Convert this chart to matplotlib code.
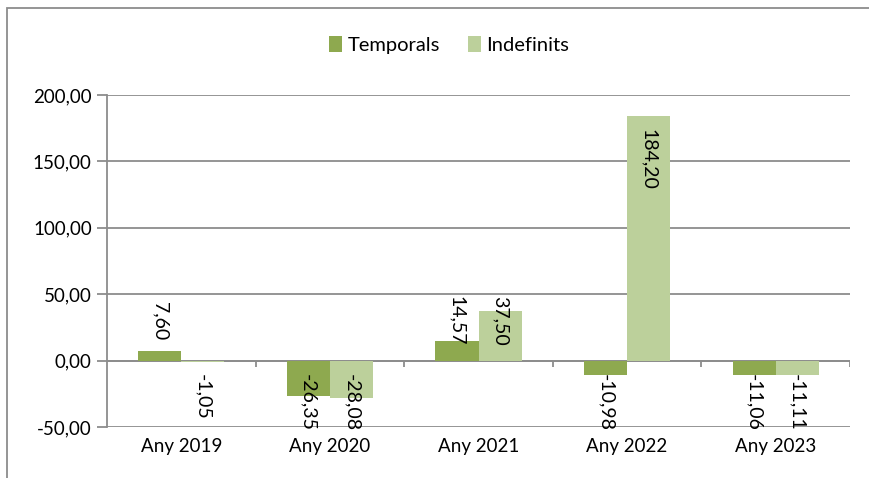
import matplotlib.pyplot as plt
import numpy as np
from matplotlib.patches import Rectangle

# Chart data
CATEGORIES = ["Any 2019", "Any 2020", "Any 2021", "Any 2022", "Any 2023"]
TEMPORALS = [7.60, -26.35, 14.57, -10.98, -11.06]
INDEFINITS = [-1.05, -28.08, 37.50, 184.20, -11.11]
SERIES_NAMES = ["Temporals", "Indefinits"]
Y_TICKS = [-50, 0, 50, 100, 150, 200]

COLORS = ["#8EA94F", "#BCD09B"]
GRID = "#8C8C8C"
FONT = ["Lato", "DejaVu Sans"]


def fmt(v):
    return f"{v:.2f}".replace(".", ",")


def label_y(v):
    # mimic the spreadsheet's placement of the rotated labels
    if v < 0:
        return -10, "top"
    if v > 100:
        return v - 10, "top"
    return 30, "center"


if __name__ == "__main__":
    plt.rcParams["font.family"] = FONT
    fig = plt.figure(figsize=(8.69, 4.78), dpi=100)
    fig.patches.append(Rectangle((7 / 869, -0.1), 1.2, 1.1 - 8 / 478,
                                 transform=fig.transFigure, fill=False,
                                 edgecolor="#8C8C8C", linewidth=1.3))

    ax = fig.add_axes([107 / 869, 51 / 478, 743 / 869, 332 / 478])
    x = np.arange(len(CATEGORIES))
    width = 0.29
    for i, (vals, name) in enumerate(zip([TEMPORALS, INDEFINITS], SERIES_NAMES)):
        pos = x + (i - 0.5) * width
        ax.bar(pos, vals, width, color=COLORS[i], label=name, zorder=3)
        for px, v in zip(pos, vals):
            y, va = label_y(v)
            ax.text(px, y, fmt(v), rotation=-90, ha="center", va=va,
                    fontsize=14, zorder=4)

    ax.set_xlim(-0.5, len(CATEGORIES) - 0.5)
    ax.set_ylim(-50, 200)
    ax.set_yticks(Y_TICKS, [fmt(t) for t in Y_TICKS], fontsize=13.5)
    ax.set_xticks(x, CATEGORIES, fontsize=13.5)
    ax.tick_params(axis="x", length=0, pad=8)
    ax.tick_params(axis="y", length=7, width=1.3, color=GRID, pad=4)
    ax.grid(axis="y", color=GRID, linewidth=1.3, zorder=0)
    for s in ["top", "right", "bottom"]:
        ax.spines[s].set_visible(False)
    ax.spines["left"].set_color(GRID)
    ax.spines["left"].set_linewidth(1.3)

    # category axis at zero with boundary tick marks
    ax.axhline(0, color=GRID, linewidth=1.3, zorder=2)
    bounds = np.arange(len(CATEGORIES) + 1) - 0.5
    ax.vlines(bounds[1:], -4.5, 0, color=GRID, linewidth=1.3, zorder=2)

    ax.legend(loc="center", bbox_to_anchor=(449 / 869, 1 - 45 / 478),
              bbox_transform=fig.transFigure, ncol=2, frameon=False,
              fontsize=14.5, handlelength=0.65, handleheight=0.8,
              handletextpad=0.25, columnspacing=1.4)

    fig.savefig("out.png", dpi=100)
